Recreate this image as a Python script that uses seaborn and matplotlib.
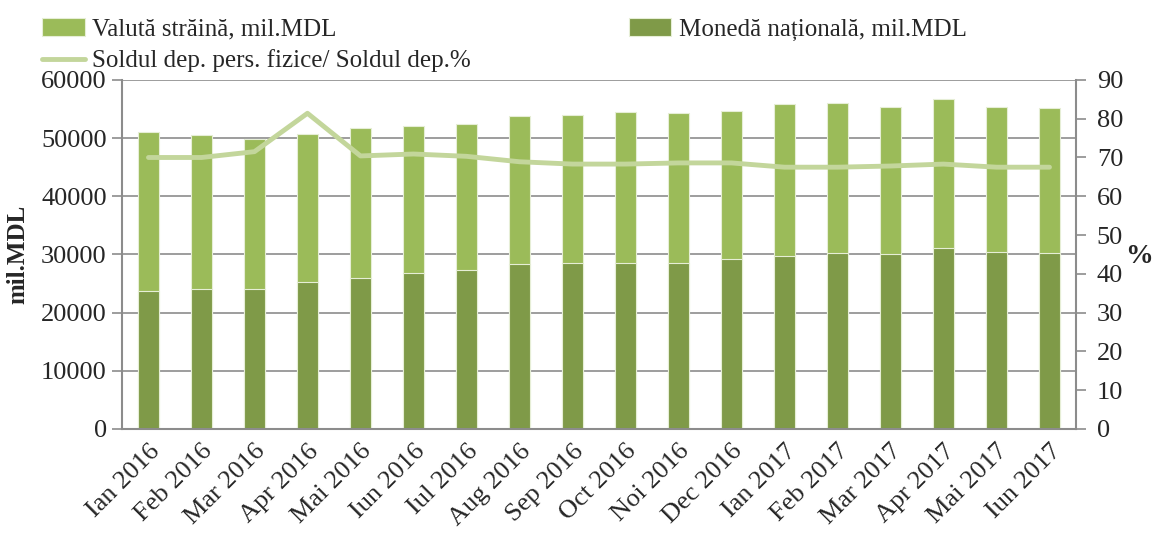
import matplotlib
matplotlib.use("Agg")
import matplotlib.pyplot as plt
import seaborn as sns
import numpy as np
import pandas as pd
from matplotlib.ticker import FixedLocator, MultipleLocator

months = ["Ian 2016", "Feb 2016", "Mar 2016", "Apr 2016", "Mai 2016", "Iun 2016",
          "Iul 2016", "Aug 2016", "Sep 2016", "Oct 2016", "Noi 2016", "Dec 2016",
          "Ian 2017", "Feb 2017", "Mar 2017", "Apr 2017", "Mai 2017", "Iun 2017"]
national = [23800, 24100, 24100, 25200, 26000, 26800, 27400, 28300, 28600, 28600,
            28600, 29200, 29800, 30200, 30000, 31100, 30500, 30200]
foreign = [27300, 26400, 25800, 25500, 25800, 25300, 25100, 25500, 25400, 25900,
           25700, 25500, 26000, 25800, 25400, 25600, 24900, 25000]
share_pct = [70.0, 70.0, 71.5, 81.4, 70.4, 70.9, 70.3, 68.9, 68.3, 68.3,
             68.6, 68.6, 67.5, 67.5, 67.8, 68.3, 67.5, 67.5]

lab_foreign = "Valută străină, mil.MDL"
lab_national = "Monedă națională, mil.MDL"
lab_share = "Soldul dep. pers. fizice/ Soldul dep.%"

c_light = "#9BBB59"
c_dark = "#7F9A48"
c_line = "#C3D69B"
c_grid = "#8C8C8C"

FS = 18
TFS = 19

sns.set_style("white")
plt.rcParams["font.family"] = ["Liberation Serif", "DejaVu Serif"]
plt.rcParams["font.size"] = FS

df = pd.DataFrame({"month": months, "national": national, "foreign": foreign,
                   "share": share_pct})
df["total"] = df["national"] + df["foreign"]
df["pos"] = np.arange(len(df))

fig = plt.figure(figsize=(11.55, 5.4), dpi=100)
ax = fig.add_axes([0.1056, 0.2056, 0.826, 0.6464])

sns.barplot(data=df, x="month", y="total", color=c_light, width=0.38, ax=ax,
            edgecolor="#E6EED6", linewidth=0.8, saturation=1, label=lab_foreign)
sns.barplot(data=df, x="month", y="national", color=c_dark, width=0.38, ax=ax,
            edgecolor="#E6EED6", linewidth=0.8, saturation=1, label=lab_national)

ax.set_ylim(0, 60000)
ax.set_xlim(-0.5, len(months) - 0.5)
ax.set_yticks(np.arange(0, 60001, 10000))
ax.yaxis.grid(True, color=c_grid, linewidth=1.2)
ax.set_axisbelow(True)
ax.set_xlabel("")
ax.set_ylabel("mil.MDL", fontweight="bold", fontsize=FS, labelpad=8)
ax.set_xticks(np.arange(len(months)))
ax.set_xticklabels(months, rotation=45, ha="right", rotation_mode="anchor")
ax.xaxis.set_minor_locator(FixedLocator(np.arange(-0.5, len(months), 1.0)))
ax.tick_params(axis="x", which="major", length=0, pad=8, labelsize=TFS)
ax.tick_params(axis="x", which="minor", length=7, color=c_grid, width=1.2, direction="out")
ax.tick_params(axis="y", length=7, color=c_grid, width=1.2, direction="out", pad=4,
               labelsize=TFS)
for s in ["left", "bottom"]:
    ax.spines[s].set_color(c_grid)
    ax.spines[s].set_linewidth(1.5)
ax.spines["top"].set_visible(False)
ax.spines["right"].set_visible(False)

ax2 = ax.twinx()
sns.lineplot(data=df, x="pos", y="share", ax=ax2, color=c_line, linewidth=3.5,
             label=lab_share, legend=False, solid_joinstyle="round", solid_capstyle="round")
ax2.set_ylim(0, 90)
ax2.set_xlim(-0.5, len(months) - 0.5)
ax2.yaxis.set_major_locator(MultipleLocator(10))
ax2.tick_params(axis="y", length=7, color=c_grid, width=1.2, direction="out", pad=8,
                labelsize=TFS)
ax2.set_ylabel("")
ax2.set_xlabel("")
ax2.spines["right"].set_color(c_grid)
ax2.spines["right"].set_linewidth(1.5)
for s in ["left", "top", "bottom"]:
    ax2.spines[s].set_visible(False)
fig.text(0.998, 0.525, "%", fontweight="bold", fontsize=FS + 2, ha="right", va="center")

if ax.get_legend() is not None:
    ax.get_legend().remove()
h1, l1 = ax.get_legend_handles_labels()
h2, l2 = ax2.get_legend_handles_labels()
handles = {l: h for h, l in zip(h1 + h2, l1 + l2)}
order = [lab_foreign, lab_share, lab_national]
fig.legend([handles[k] for k in order], order, ncol=2, loc="upper left",
           bbox_to_anchor=(0.028, 0.985), frameon=False, fontsize=FS,
           handlelength=1.7, handletextpad=0.3, columnspacing=6.3,
           labelspacing=0.35, borderaxespad=0)

fig.savefig("out.png", dpi=100)
